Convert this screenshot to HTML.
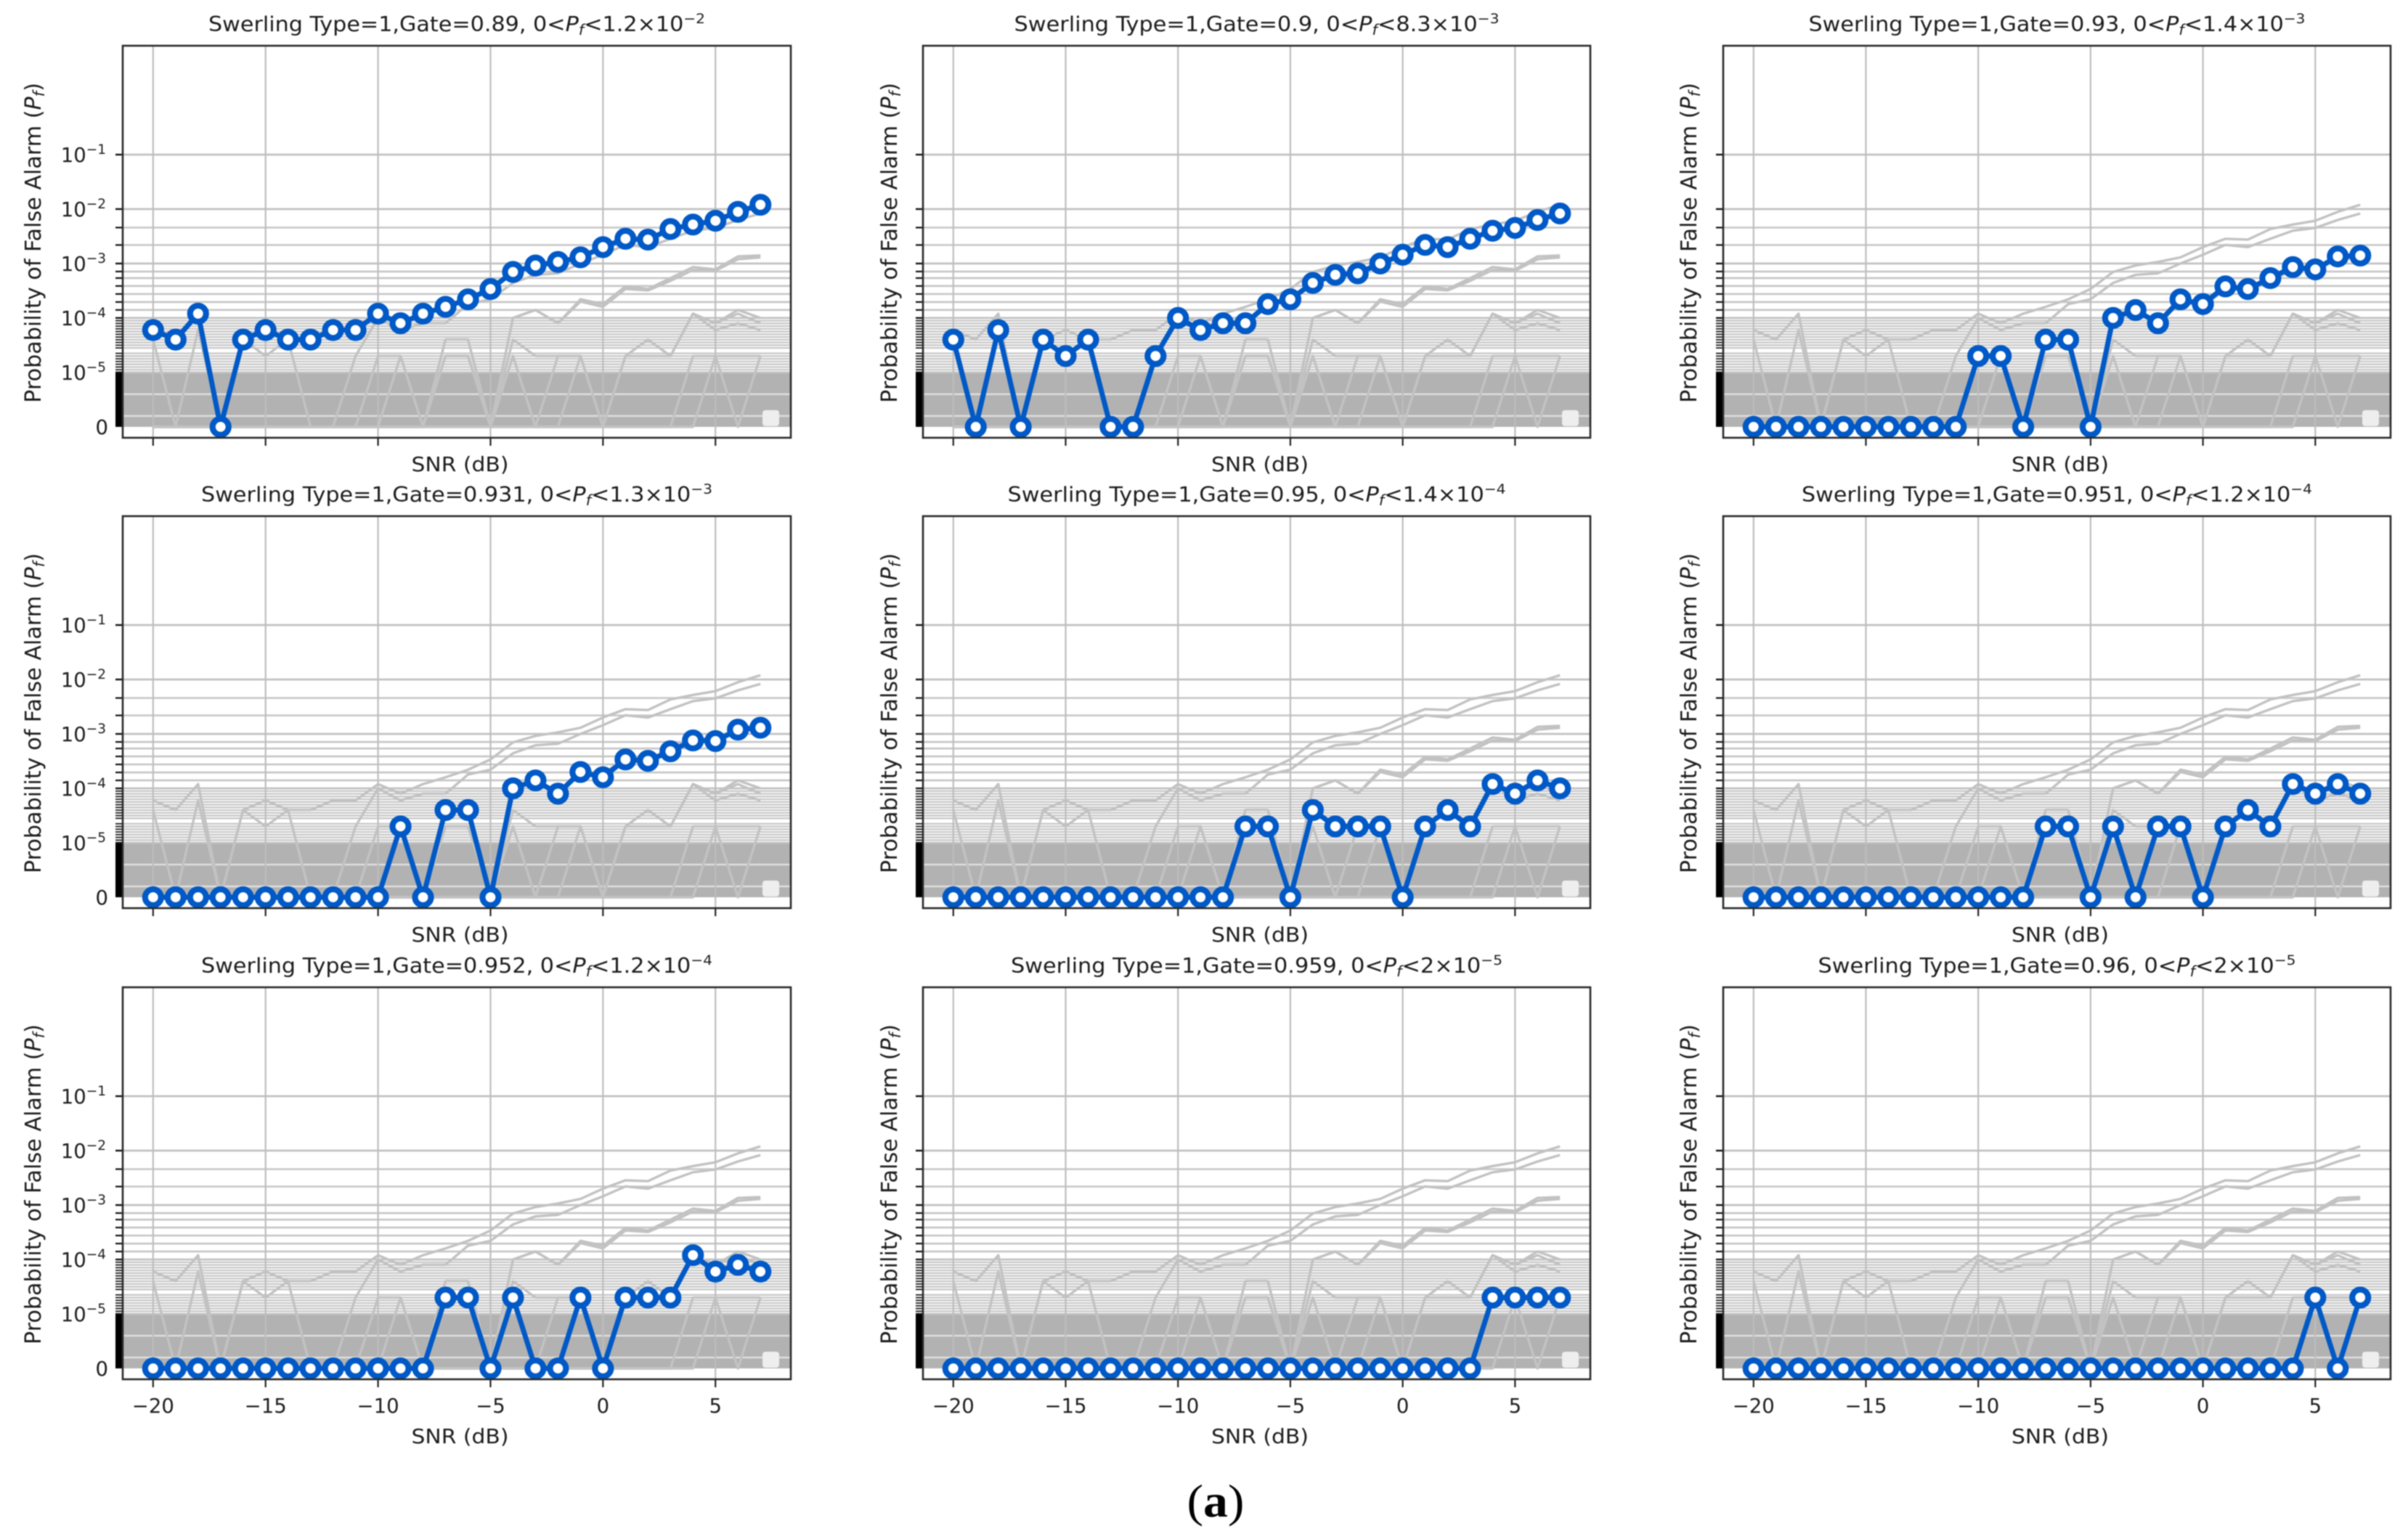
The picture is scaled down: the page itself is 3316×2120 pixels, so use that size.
<!DOCTYPE html>
<html lang="en">
<head>
<meta charset="utf-8">
<title>Swerling Type 1 probability of false alarm</title>
<style>
html,body{margin:0;padding:0;background:#fff;}
body{width:3316px;height:2120px;overflow:hidden;}
#figure{display:block;filter:blur(0.9px);}
text{font-family:"DejaVu Sans","Liberation Sans",sans-serif;fill:#1c1c1c;}
</style>
</head>
<body>
<svg id="figure" xmlns="http://www.w3.org/2000/svg" width="3316" height="2120" viewBox="0 0 3316 2120">
<rect x="0" y="0" width="3316" height="2120" fill="#ffffff"/>
<text x="1674" y="2089" text-anchor="middle" textLength="79" lengthAdjust="spacingAndGlyphs" style="font-family:'Liberation Serif',serif;font-size:64px;fill:#000">(<tspan font-weight="bold">a</tspan>)</text>
</svg>
<script>
const snr = [-20,-19,-18,-17,-16,-15,-14,-13,-12,-11,-10,-9,-8,-7,-6,-5,-4,-3,-2,-1,0,1,2,3,4,5,6,7];

const series089 = [6e-5,4e-5,1.2e-4,0,4e-5,6e-5,4e-5,4e-5,6e-5,6e-5,1.2e-4,8e-5,1.2e-4,1.6e-4,2.2e-4,3.4e-4,7e-4,9.2e-4,1.07e-3,1.3e-3,2e-3,2.85e-3,2.75e-3,4.3e-3,5.2e-3,6.1e-3,8.9e-3,1.2e-2];
const series090 = [4e-5,0,6e-5,0,4e-5,2e-5,4e-5,0,0,2e-5,1e-4,6e-5,8e-5,8e-5,1.8e-4,2.2e-4,4.4e-4,6.2e-4,6.6e-4,1e-3,1.45e-3,2.2e-3,2e-3,2.85e-3,4e-3,4.5e-3,6.3e-3,8.3e-3];
const series093 = [0,0,0,0,0,0,0,0,0,0,2e-5,2e-5,0,4e-5,4e-5,0,1e-4,1.4e-4,8e-5,2.2e-4,1.8e-4,3.8e-4,3.4e-4,5.4e-4,8.6e-4,7.8e-4,1.35e-3,1.4e-3];
const series0931 = [0,0,0,0,0,0,0,0,0,0,0,2e-5,0,4e-5,4e-5,0,1e-4,1.4e-4,8e-5,2e-4,1.6e-4,3.4e-4,3.2e-4,4.8e-4,7.6e-4,7.4e-4,1.2e-3,1.3e-3];
const series095 = [0,0,0,0,0,0,0,0,0,0,0,0,0,2e-5,2e-5,0,4e-5,2e-5,2e-5,2e-5,0,2e-5,4e-5,2e-5,1.2e-4,8e-5,1.4e-4,1e-4];
const series0951 = [0,0,0,0,0,0,0,0,0,0,0,0,0,2e-5,2e-5,0,2e-5,0,2e-5,2e-5,0,2e-5,4e-5,2e-5,1.2e-4,8e-5,1.2e-4,8e-5];
const series0952 = [0,0,0,0,0,0,0,0,0,0,0,0,0,2e-5,2e-5,0,2e-5,0,0,2e-5,0,2e-5,2e-5,2e-5,1.2e-4,6e-5,8e-5,6e-5];
const series0959 = [0,0,0,0,0,0,0,0,0,0,0,0,0,0,0,0,0,0,0,0,0,0,0,0,2e-5,2e-5,2e-5,2e-5];
const series096 = [0,0,0,0,0,0,0,0,0,0,0,0,0,0,0,0,0,0,0,0,0,0,0,0,0,2e-5,0,2e-5];

const allSeries = [series089,series090,series093,series0931,series095,series0951,series0952,series0959,series096];
const gateLabels = ['0.89','0.9','0.93','0.931','0.95','0.951','0.952','0.959','0.96'];
const maxMantissas = ['1.2','8.3','1.4','1.3','1.4','1.2','1.2','2','2'];
const maxExponents = ['\u22122','\u22123','\u22123','\u22123','\u22124','\u22124','\u22124','\u22125','\u22125'];

const xTickValues = [-20,-15,-10,-5,0,5];
const xTickLabels = ['\u221220','\u221215','\u221210','\u22125','0','5'];
const yMajorExponents = [-1,-2,-3,-4,-5];
const yMajorLabels = ['\u22121','\u22122','\u22123','\u22124','\u22125'];
const yMinorWide = [-2.34,-2.66,-3.147,-3.267,-3.413,-3.56,-3.707,-3.853];
const yMinorDense = [-4.05,-4.1,-4.15,-4.2,-4.25,-4.3,-4.35,-4.4,-4.45,-4.5,-4.55,-4.65,-4.7,-4.75,-4.8,-4.85,-4.9,-4.95];
const yLinearGaps = [6e-6,2e-6];

const columnLeft = [169,1271,2373];
const columnRight = [1089,2190,3292];
const rowTop = [63,711,1360];
const titleWidths = [684,668,684,704,686,703,704,677,658];
const yLabelBaseline = [56,1235,2336];

const PANEL_HEIGHT = 540;
const ZERO_OFFSET = 15;
const UNIT_PX = 75;
const X_MIN = -21.35;
const X_MAX = 8.35;
const SVG_NS = 'http://www.w3.org/2000/svg';
const root = document.getElementById('figure');
const defs = document.createElementNS(SVG_NS,'defs');
root.appendChild(defs);

function make(tag,parent,attrs){
  const el = document.createElementNS(SVG_NS,tag);
  for(const k in attrs){ el.setAttribute(k,attrs[k]); }
  parent.appendChild(el);
  return el;
}
function tspan(parent,content,attrs){
  const t = make('tspan',parent,attrs||{});
  t.textContent = content;
  return t;
}
function yUnits(v){
  if(v<=0) return 0;
  if(v<=1e-5) return v/1e-5;
  return Math.log10(v)+6;
}

allSeries.forEach(function(values,index){
  const col = index%3;
  const row = Math.floor(index/3);
  const left = columnLeft[col];
  const right = columnRight[col];
  const top = rowTop[row];
  const bottom = top+PANEL_HEIGHT;
  const xScale = function(v){ return left+(v-X_MIN)/(X_MAX-X_MIN)*(right-left); };
  const yScale = function(v){ return bottom-ZERO_OFFSET-yUnits(v)*UNIT_PX; };
  const gate = gateLabels[index];

  const clip = make('clipPath',defs,{id:'clip-'+index});
  make('rect',clip,{x:left,y:top,width:right-left,height:PANEL_HEIGHT});

  const panel = make('g',root,{});
  
  

  const plotArea = make('g',panel,{'clip-path':'url(#clip-'+index+')'});
  
  

  const band = make('rect',plotArea,{x:left,y:yScale(1e-5),width:right-left,height:yScale(0)-yScale(1e-5),fill:'#b2b2b2'});
  
  

  yLinearGaps.forEach(function(v){
    const gap = make('line',plotArea,{x1:left,x2:right,y1:yScale(v),y2:yScale(v),stroke:'#dedede','stroke-width':2.4});
    
    
  });

  yMinorDense.forEach(function(e){
    const grid = make('line',plotArea,{x1:left,x2:right,y1:yScale(Math.pow(10,e)),y2:yScale(Math.pow(10,e)),stroke:'#c6c6c6','stroke-width':2.2});
    
    
  });
  yMinorWide.forEach(function(e){
    const grid = make('line',plotArea,{x1:left,x2:right,y1:yScale(Math.pow(10,e)),y2:yScale(Math.pow(10,e)),stroke:'#c6c6c6','stroke-width':2.6});
    
    
  });
  yMajorExponents.forEach(function(e){
    const grid = make('line',plotArea,{x1:left,x2:right,y1:yScale(Math.pow(10,e)),y2:yScale(Math.pow(10,e)),stroke:'#c2c2c2','stroke-width':2.8});
    
    
  });
  xTickValues.forEach(function(v){
    const grid = make('line',plotArea,{x1:xScale(v),x2:xScale(v),y1:top,y2:bottom,stroke:'#bdbdbd','stroke-width':2.2});
    
    
  });

  allSeries.forEach(function(other,otherIndex){
    const pts = other.map(function(v,i){ return xScale(snr[i]).toFixed(1)+','+yScale(v).toFixed(1); }).join(' ');
    const ghost = make('polyline',plotArea,{points:pts,fill:'none',stroke:'#c2c2c2','stroke-width':3.4,'stroke-linejoin':'round'});
    
    
  });

  const blueLine = make('polyline',plotArea,{points:values.map(function(v,i){ return xScale(snr[i]).toFixed(1)+','+yScale(v).toFixed(1); }).join(' '),fill:'none',stroke:'#0059c6','stroke-width':7,'stroke-linejoin':'round'});
  
  

  values.forEach(function(v,i){
    const dot = make('circle',plotArea,{cx:xScale(snr[i]),cy:yScale(v),r:11,fill:'#ffffff',stroke:'#0059c6','stroke-width':8.2});
    
    
  });

  const legend = make('rect',plotArea,{x:right-39,y:bottom-38,width:23,height:22,rx:4,fill:'#eeeeee'});
  
  

  const tickBlock = make('rect',panel,{x:left-10,y:yScale(1e-5),width:10,height:yScale(0)-yScale(1e-5),fill:'#000000'});
  
  

  yMinorDense.forEach(function(e){
    const tick = make('line',panel,{x1:left-10,x2:left,y1:yScale(Math.pow(10,e)),y2:yScale(Math.pow(10,e)),stroke:'#111111','stroke-width':1.7});
    
    
  });
  yMinorWide.forEach(function(e){
    const tick = make('line',panel,{x1:left-10,x2:left,y1:yScale(Math.pow(10,e)),y2:yScale(Math.pow(10,e)),stroke:'#111111','stroke-width':2.2});
    
    
  });
  yMajorExponents.forEach(function(e){
    const tick = make('line',panel,{x1:left-10,x2:left,y1:yScale(Math.pow(10,e)),y2:yScale(Math.pow(10,e)),stroke:'#111111','stroke-width':2.4});
    
    
  });
  xTickValues.forEach(function(v){
    const tick = make('line',panel,{x1:xScale(v),x2:xScale(v),y1:bottom,y2:bottom+11,stroke:'#222222','stroke-width':2.2});
    
    
  });

  const frame = make('rect',panel,{x:left,y:top,width:right-left,height:PANEL_HEIGHT,fill:'none',stroke:'#2a2a2a','stroke-width':2.6});
  
  

  const title = make('text',panel,{x:(left+right)/2,y:top-20,'text-anchor':'middle','font-size':28.5,textLength:titleWidths[index],lengthAdjust:'spacingAndGlyphs'});
  
  
  tspan(title,'Swerling Type=1,Gate='+gate+', 0<');
  tspan(title,'P',{'font-style':'italic'});
  tspan(title,'f',{'font-style':'italic','font-size':20,dy:5});
  tspan(title,'<'+maxMantissas[index]+'\u00d710',{dy:-5});
  tspan(title,maxExponents[index],{'font-size':19,dy:-11});

  const yTitle = make('text',panel,{x:0,y:0,transform:'translate('+yLabelBaseline[col]+','+(top+271.5)+') rotate(-90)','text-anchor':'middle','font-size':30,textLength:441,lengthAdjust:'spacingAndGlyphs'});
  
  
  tspan(yTitle,'Probability of False Alarm (');
  tspan(yTitle,'P',{'font-style':'italic'});
  tspan(yTitle,'f',{'font-style':'italic','font-size':21,dy:5});
  tspan(yTitle,')',{dy:-5});

  const xTitleBaseline = row===2 ? bottom+88 : bottom+46;
  const xTitle = make('text',panel,{x:(left+right)/2+4.5,y:xTitleBaseline,'text-anchor':'middle','font-size':28,textLength:134,lengthAdjust:'spacingAndGlyphs'});
  
  
  xTitle.textContent = 'SNR (dB)';

  if(col===0){
    yMajorExponents.forEach(function(e,k){
      const label = make('text',panel,{x:left-23,y:yScale(Math.pow(10,e))+10,'text-anchor':'end','font-size':27.5});
      
      
      tspan(label,'10');
      tspan(label,yMajorLabels[k],{'font-size':18.5,dy:-11});
    });
    const zeroLabel = make('text',panel,{x:left-20,y:yScale(0)+10,'text-anchor':'end','font-size':27.5});
    
    
    zeroLabel.textContent = '0';
  }
  if(row===2){
    xTickValues.forEach(function(v,k){
      const label = make('text',panel,{x:xScale(v),y:bottom+46,'text-anchor':'middle','font-size':27.5});
      
      
      label.textContent = xTickLabels[k];
    });
  }
});
</script>
</body>
</html>
